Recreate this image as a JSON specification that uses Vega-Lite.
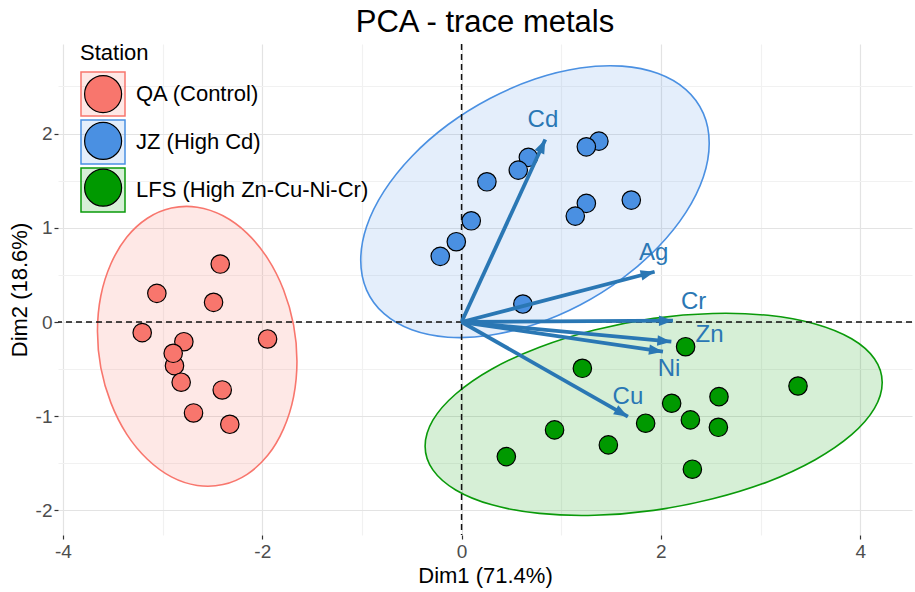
{
  "$schema": "https://vega.github.io/schema/vega-lite/v6.json",
  "width": 854,
  "height": 491,
  "autosize": {"type": "none"},
  "padding": {"left": 58, "top": 44, "right": 3, "bottom": 57},
  "background": "white",
  "title": {"text": "PCA - trace metals", "fontSize": 31, "font": "Liberation Sans", "fontWeight": "normal", "color": "black", "anchor": "middle", "baseline": "bottom", "offset": 4, "dy": 31, "frame": "group"},
  "config": {
    "view": {"stroke": null},
    "font": "Liberation Sans",
    "axis": {"labelFont": "Liberation Sans", "labelFontSize": 19, "labelColor": "#4D4D4D", "titleFont": "Liberation Sans", "titleFontSize": 22, "titleFontWeight": "normal", "titleColor": "black", "domain": false, "tickSize": 4, "tickWidth": 1.2, "gridWidth": 1.2},
    "legend": {"labelFont": "Liberation Sans", "titleFont": "Liberation Sans"}
  },
  "datasets": {
    "ell": [
      {"Group": "QA (Control)", "x": -1.652, "y": -0.417},
      {"Group": "QA (Control)", "x": -1.686, "y": -0.794},
      {"Group": "QA (Control)", "x": -1.787, "y": -1.134},
      {"Group": "QA (Control)", "x": -1.945, "y": -1.415},
      {"Group": "QA (Control)", "x": -2.152, "y": -1.616},
      {"Group": "QA (Control)", "x": -2.394, "y": -1.725},
      {"Group": "QA (Control)", "x": -2.653, "y": -1.734},
      {"Group": "QA (Control)", "x": -2.912, "y": -1.643},
      {"Group": "QA (Control)", "x": -3.153, "y": -1.456},
      {"Group": "QA (Control)", "x": -3.361, "y": -1.189},
      {"Group": "QA (Control)", "x": -3.519, "y": -0.858},
      {"Group": "QA (Control)", "x": -3.620, "y": -0.486},
      {"Group": "QA (Control)", "x": -3.654, "y": -0.098},
      {"Group": "QA (Control)", "x": -3.620, "y": 0.279},
      {"Group": "QA (Control)", "x": -3.519, "y": 0.618},
      {"Group": "QA (Control)", "x": -3.361, "y": 0.899},
      {"Group": "QA (Control)", "x": -3.153, "y": 1.101},
      {"Group": "QA (Control)", "x": -2.912, "y": 1.209},
      {"Group": "QA (Control)", "x": -2.653, "y": 1.218},
      {"Group": "QA (Control)", "x": -2.394, "y": 1.127},
      {"Group": "QA (Control)", "x": -2.152, "y": 0.941},
      {"Group": "QA (Control)", "x": -1.945, "y": 0.673},
      {"Group": "QA (Control)", "x": -1.787, "y": 0.343},
      {"Group": "QA (Control)", "x": -1.686, "y": -0.030},
      {"Group": "JZ (High Cd)", "x": 2.485, "y": 1.898},
      {"Group": "JZ (High Cd)", "x": 2.426, "y": 1.540},
      {"Group": "JZ (High Cd)", "x": 2.251, "y": 1.164},
      {"Group": "JZ (High Cd)", "x": 1.973, "y": 0.796},
      {"Group": "JZ (High Cd)", "x": 1.611, "y": 0.460},
      {"Group": "JZ (High Cd)", "x": 1.189, "y": 0.180},
      {"Group": "JZ (High Cd)", "x": 0.737, "y": -0.024},
      {"Group": "JZ (High Cd)", "x": 0.284, "y": -0.141},
      {"Group": "JZ (High Cd)", "x": -0.138, "y": -0.161},
      {"Group": "JZ (High Cd)", "x": -0.500, "y": -0.083},
      {"Group": "JZ (High Cd)", "x": -0.778, "y": 0.088},
      {"Group": "JZ (High Cd)", "x": -0.953, "y": 0.339},
      {"Group": "JZ (High Cd)", "x": -1.012, "y": 0.655},
      {"Group": "JZ (High Cd)", "x": -0.953, "y": 1.014},
      {"Group": "JZ (High Cd)", "x": -0.778, "y": 1.389},
      {"Group": "JZ (High Cd)", "x": -0.500, "y": 1.757},
      {"Group": "JZ (High Cd)", "x": -0.138, "y": 2.093},
      {"Group": "JZ (High Cd)", "x": 0.284, "y": 2.372},
      {"Group": "JZ (High Cd)", "x": 0.737, "y": 2.578},
      {"Group": "JZ (High Cd)", "x": 1.189, "y": 2.695},
      {"Group": "JZ (High Cd)", "x": 1.611, "y": 2.715},
      {"Group": "JZ (High Cd)", "x": 1.973, "y": 2.636},
      {"Group": "JZ (High Cd)", "x": 2.251, "y": 2.466},
      {"Group": "JZ (High Cd)", "x": 2.426, "y": 2.214},
      {"Group": "LFS (High Zn-Cu-Ni-Cr)", "x": 4.221, "y": -0.642},
      {"Group": "LFS (High Zn-Cu-Ni-Cr)", "x": 4.143, "y": -0.917},
      {"Group": "LFS (High Zn-Cu-Ni-Cr)", "x": 3.914, "y": -1.196},
      {"Group": "LFS (High Zn-Cu-Ni-Cr)", "x": 3.549, "y": -1.461},
      {"Group": "LFS (High Zn-Cu-Ni-Cr)", "x": 3.075, "y": -1.694},
      {"Group": "LFS (High Zn-Cu-Ni-Cr)", "x": 2.520, "y": -1.876},
      {"Group": "LFS (High Zn-Cu-Ni-Cr)", "x": 1.927, "y": -1.999},
      {"Group": "LFS (High Zn-Cu-Ni-Cr)", "x": 1.334, "y": -2.051},
      {"Group": "LFS (High Zn-Cu-Ni-Cr)", "x": 0.781, "y": -2.031},
      {"Group": "LFS (High Zn-Cu-Ni-Cr)", "x": 0.305, "y": -1.940},
      {"Group": "LFS (High Zn-Cu-Ni-Cr)", "x": -0.059, "y": -1.782},
      {"Group": "LFS (High Zn-Cu-Ni-Cr)", "x": -0.288, "y": -1.569},
      {"Group": "LFS (High Zn-Cu-Ni-Cr)", "x": -0.366, "y": -1.318},
      {"Group": "LFS (High Zn-Cu-Ni-Cr)", "x": -0.288, "y": -1.042},
      {"Group": "LFS (High Zn-Cu-Ni-Cr)", "x": -0.059, "y": -0.764},
      {"Group": "LFS (High Zn-Cu-Ni-Cr)", "x": 0.305, "y": -0.498},
      {"Group": "LFS (High Zn-Cu-Ni-Cr)", "x": 0.781, "y": -0.267},
      {"Group": "LFS (High Zn-Cu-Ni-Cr)", "x": 1.334, "y": -0.084},
      {"Group": "LFS (High Zn-Cu-Ni-Cr)", "x": 1.927, "y": 0.039},
      {"Group": "LFS (High Zn-Cu-Ni-Cr)", "x": 2.520, "y": 0.091},
      {"Group": "LFS (High Zn-Cu-Ni-Cr)", "x": 3.075, "y": 0.071},
      {"Group": "LFS (High Zn-Cu-Ni-Cr)", "x": 3.549, "y": -0.021},
      {"Group": "LFS (High Zn-Cu-Ni-Cr)", "x": 3.914, "y": -0.178},
      {"Group": "LFS (High Zn-Cu-Ni-Cr)", "x": 4.143, "y": -0.390}
    ],
    "ind": [
      {"Station": "QA (Control)", "x": -2.422, "y": 0.615},
      {"Station": "QA (Control)", "x": -3.058, "y": 0.304},
      {"Station": "QA (Control)", "x": -2.489, "y": 0.209},
      {"Station": "QA (Control)", "x": -3.205, "y": -0.113},
      {"Station": "QA (Control)", "x": -2.787, "y": -0.209},
      {"Station": "QA (Control)", "x": -1.947, "y": -0.180},
      {"Station": "QA (Control)", "x": -2.881, "y": -0.463},
      {"Station": "QA (Control)", "x": -2.894, "y": -0.332},
      {"Station": "QA (Control)", "x": -2.814, "y": -0.639},
      {"Station": "QA (Control)", "x": -2.402, "y": -0.721},
      {"Station": "QA (Control)", "x": -2.690, "y": -0.965},
      {"Station": "QA (Control)", "x": -2.326, "y": -1.085},
      {"Station": "JZ (High Cd)", "x": 1.378, "y": 1.919},
      {"Station": "JZ (High Cd)", "x": 1.252, "y": 1.859},
      {"Station": "JZ (High Cd)", "x": 0.670, "y": 1.747},
      {"Station": "JZ (High Cd)", "x": 0.569, "y": 1.612},
      {"Station": "JZ (High Cd)", "x": 0.254, "y": 1.488},
      {"Station": "JZ (High Cd)", "x": 1.252, "y": 1.259},
      {"Station": "JZ (High Cd)", "x": 1.141, "y": 1.124},
      {"Station": "JZ (High Cd)", "x": 1.703, "y": 1.294},
      {"Station": "JZ (High Cd)", "x": 0.097, "y": 1.074},
      {"Station": "JZ (High Cd)", "x": -0.053, "y": 0.852},
      {"Station": "JZ (High Cd)", "x": -0.214, "y": 0.697},
      {"Station": "JZ (High Cd)", "x": 0.615, "y": 0.191},
      {"Station": "LFS (High Zn-Cu-Ni-Cr)", "x": 2.248, "y": -0.262},
      {"Station": "LFS (High Zn-Cu-Ni-Cr)", "x": 1.212, "y": -0.491},
      {"Station": "LFS (High Zn-Cu-Ni-Cr)", "x": 3.376, "y": -0.679},
      {"Station": "LFS (High Zn-Cu-Ni-Cr)", "x": 2.583, "y": -0.792},
      {"Station": "LFS (High Zn-Cu-Ni-Cr)", "x": 2.108, "y": -0.862},
      {"Station": "LFS (High Zn-Cu-Ni-Cr)", "x": 2.296, "y": -1.039},
      {"Station": "LFS (High Zn-Cu-Ni-Cr)", "x": 1.847, "y": -1.074},
      {"Station": "LFS (High Zn-Cu-Ni-Cr)", "x": 2.577, "y": -1.117},
      {"Station": "LFS (High Zn-Cu-Ni-Cr)", "x": 0.933, "y": -1.145},
      {"Station": "LFS (High Zn-Cu-Ni-Cr)", "x": 1.473, "y": -1.304},
      {"Station": "LFS (High Zn-Cu-Ni-Cr)", "x": 0.449, "y": -1.428},
      {"Station": "LFS (High Zn-Cu-Ni-Cr)", "x": 2.316, "y": -1.562}
    ],
    "vars": [
      {"name": "Cd", "x": 0.840, "y": 1.937, "lx": 0.816, "ly": 2.142},
      {"name": "Ag", "x": 1.937, "y": 0.533, "lx": 1.927, "ly": 0.735},
      {"name": "Cr", "x": 2.121, "y": 0.014, "lx": 2.329, "ly": 0.212},
      {"name": "Zn", "x": 2.105, "y": -0.209, "lx": 2.489, "ly": -0.138},
      {"name": "Ni", "x": 2.021, "y": -0.315, "lx": 2.081, "ly": -0.502},
      {"name": "Cu", "x": 1.669, "y": -1.004, "lx": 1.669, "ly": -0.799}
    ]
  },
  "layer": [
    {
      "data": {"name": "ell"},
      "mark": {"type": "line", "interpolate": "cardinal-closed", "strokeWidth": 1.6},
      "encoding": {
        "x": {
          "field": "x", "type": "quantitative",
          "scale": {"domain": [-4.05, 4.52], "nice": false, "zero": false},
          "axis": {
            "title": "Dim1 (71.4%)",
            "values": [-4, -3, -2, -1, 0, 1, 2, 3, 4],
            "labelExpr": "datum.value % 2 === 0 ? '' + datum.value : ''",
            "tickColor": {"condition": {"test": "datum.value % 2 !== 0", "value": "rgba(0,0,0,0)"}, "value": "#333333"},
            "gridColor": {"condition": {"test": "datum.value % 2 !== 0", "value": "#F1F1F1"}, "value": "#E3E3E3"},
            "labelPadding": 3,
            "titlePadding": 4
          }
        },
        "y": {
          "field": "y", "type": "quantitative",
          "scale": {"domain": [-2.26, 2.95], "nice": false, "zero": false},
          "axis": {
            "title": "Dim2 (18.6%)",
            "values": [-2, -1.5, -1, -0.5, 0, 0.5, 1, 1.5, 2, 2.5],
            "labelExpr": "datum.value % 1 === 0 ? '' + datum.value : ''",
            "tickColor": {"condition": {"test": "datum.value % 1 !== 0", "value": "rgba(0,0,0,0)"}, "value": "#333333"},
            "gridColor": {"condition": {"test": "datum.value % 1 !== 0", "value": "#F1F1F1"}, "value": "#E3E3E3"},
            "labelPadding": 2,
            "titlePadding": 4
          }
        },
        "order": {"value": null},
        "fill": {
          "field": "Group", "type": "nominal",
          "scale": {"domain": ["QA (Control)", "JZ (High Cd)", "LFS (High Zn-Cu-Ni-Cr)"], "range": ["rgba(248,118,109,0.17)", "rgba(74,144,226,0.15)", "rgba(0,153,0,0.16)"]},
          "legend": {"orient": "none", "legendX": 22, "legendY": -1, "title": "Station", "symbolType": "square", "symbolSize": 1936, "symbolStrokeWidth": 1.5, "titleFontSize": 22, "titleFontWeight": "normal", "titleColor": "black", "labelFontSize": 22, "labelColor": "black", "labelOffset": 10, "titlePadding": 6, "rowPadding": -3.5, "padding": 0, "labelLimit": 400, "zindex": 1}
        },
        "stroke": {
          "field": "Group", "type": "nominal",
          "scale": {"domain": ["QA (Control)", "JZ (High Cd)", "LFS (High Zn-Cu-Ni-Cr)"], "range": ["#F8766D", "#4A90E2", "#0A9A0A"]},
          "legend": {"orient": "none", "legendX": 22, "legendY": -1, "title": "Station", "symbolType": "square", "symbolSize": 1936, "symbolStrokeWidth": 1.5, "titleFontSize": 22, "titleFontWeight": "normal", "titleColor": "black", "labelFontSize": 22, "labelColor": "black", "labelOffset": 10, "titlePadding": 6, "rowPadding": -3.5, "padding": 0, "labelLimit": 400, "zindex": 1}
        }
      }
    },
    {
      "data": {"values": [{}]},
      "mark": {"type": "rule", "strokeDash": [6, 4], "strokeWidth": 1.5, "color": "#111111"},
      "encoding": {"x": {"datum": 0}}
    },
    {
      "data": {"values": [{}]},
      "mark": {"type": "rule", "strokeDash": [6, 4], "strokeWidth": 1.5, "color": "#111111"},
      "encoding": {"y": {"datum": 0}}
    },
    {
      "data": {"name": "ind"},
      "mark": {"type": "point", "filled": true, "size": 340, "stroke": "black", "strokeWidth": 1.2, "opacity": 1},
      "encoding": {
        "x": {"field": "x", "type": "quantitative"},
        "y": {"field": "y", "type": "quantitative"},
        "color": {
          "field": "Station", "type": "nominal",
          "sort": ["QA (Control)", "JZ (High Cd)", "LFS (High Zn-Cu-Ni-Cr)"],
          "scale": {"range": ["#F8766D", "#4A90E2", "#009900"]},
          "legend": {"orient": "none", "legendX": 25.6, "legendY": 30.6, "title": null, "labelExpr": "''", "symbolType": "circle", "symbolSize": 1369, "symbolStrokeWidth": 1.2, "labelFontSize": 22, "rowPadding": 3.8, "padding": 0, "zindex": 2}
        }
      }
    },
    {
      "data": {"name": "vars"},
      "mark": {"type": "rule", "color": "#2A77B4", "strokeWidth": 3.8},
      "encoding": {
        "x": {"field": "x", "type": "quantitative"},
        "y": {"field": "y", "type": "quantitative"},
        "x2": {"datum": 0},
        "y2": {"datum": 0}
      }
    },
    {
      "data": {"name": "vars"},
      "transform": [{"calculate": "-atan2(datum.y * 0.9457, datum.x) * 180 / PI", "as": "ang"}],
      "mark": {"type": "point", "shape": "M0,0L-2,-0.75L-2,0.75Z", "filled": true, "size": 196, "color": "#2A77B4", "opacity": 1, "strokeWidth": 0},
      "encoding": {
        "x": {"field": "x", "type": "quantitative"},
        "y": {"field": "y", "type": "quantitative"},
        "angle": {"field": "ang", "type": "quantitative", "scale": null}
      }
    },
    {
      "data": {"name": "vars"},
      "mark": {"type": "text", "fontSize": 24, "color": "#2A77B4", "align": "center", "baseline": "middle", "font": "Liberation Sans"},
      "encoding": {
        "x": {"field": "lx", "type": "quantitative"},
        "y": {"field": "ly", "type": "quantitative"},
        "text": {"field": "name", "type": "nominal"}
      }
    }
  ]
}
